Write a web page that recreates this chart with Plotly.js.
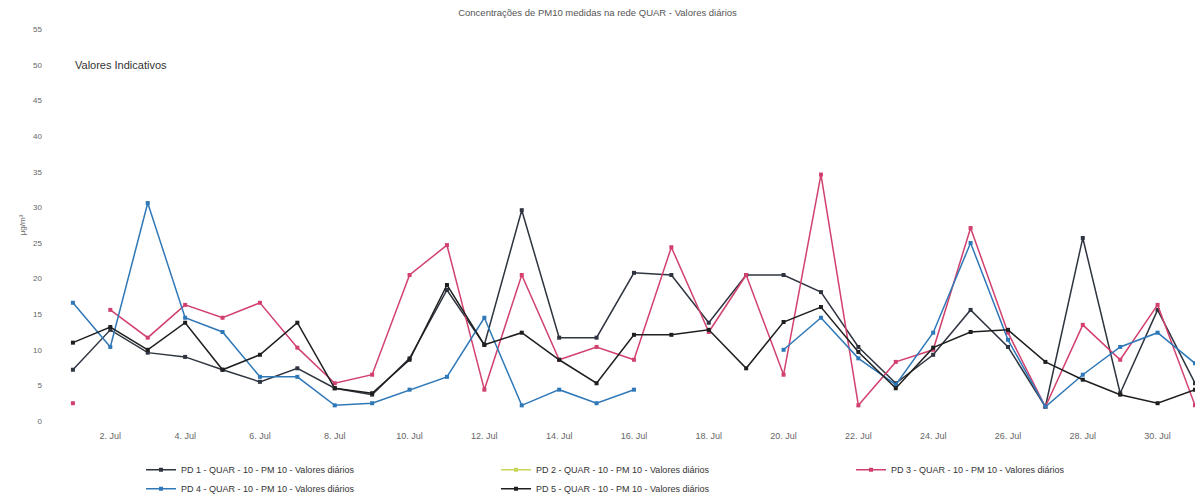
<!DOCTYPE html>
<html>
<head>
<meta charset="utf-8">
<script src="https://cdn.plot.ly/plotly-3.0.1.min.js"></script>
<style>html,body{margin:0;padding:0;background:#fff;}#chart{width:1195px;height:497px;}</style>
</head>
<body>
<div id="chart"></div>
<script>
// ---- data (PM10 daily values, µg/m³) ----
var dates = ["2014-07-01","2014-07-02","2014-07-03","2014-07-04","2014-07-05","2014-07-06","2014-07-07","2014-07-08","2014-07-09","2014-07-10",
             "2014-07-11","2014-07-12","2014-07-13","2014-07-14","2014-07-15","2014-07-16","2014-07-17","2014-07-18","2014-07-19","2014-07-20",
             "2014-07-21","2014-07-22","2014-07-23","2014-07-24","2014-07-25","2014-07-26","2014-07-27","2014-07-28","2014-07-29","2014-07-30","2014-07-31"];
var tickDates = ["2014-07-02","2014-07-04","2014-07-06","2014-07-08","2014-07-10","2014-07-12","2014-07-14","2014-07-16",
                 "2014-07-18","2014-07-20","2014-07-22","2014-07-24","2014-07-26","2014-07-28","2014-07-30"];
var tickLabels = ["2. Jul","4. Jul","6. Jul","8. Jul","10. Jul","12. Jul","14. Jul","16. Jul",
                  "18. Jul","20. Jul","22. Jul","24. Jul","26. Jul","28. Jul","30. Jul"];
var seriesNames = ["PD 1 - QUAR - 10 - PM 10 - Valores diários",
                   "PD 2 - QUAR - 10 - PM 10 - Valores diários",
                   "PD 3 - QUAR - 10 - PM 10 - Valores diários",
                   "PD 4 - QUAR - 10 - PM 10 - Valores diários",
                   "PD 5 - QUAR - 10 - PM 10 - Valores diários"];
var pd1 = [7.2,12.8,9.6,9.0,7.2,5.5,7.4,4.6,3.7,8.8,18.4,10.7,29.6,11.7,11.7,20.8,20.5,13.8,20.5,20.5,18.1,10.4,5.3,9.3,15.6,10.4,2.0,25.7,3.9,15.6,5.3];
var pd2 = [null,null,null,null,null,null,null,null,null,null,null,null,null,null,null,null,null,null,null,null,null,null,null,null,null,null,null,null,null,null,null];
var pd3 = [null,15.6,11.7,16.3,14.5,16.6,10.3,5.3,6.5,20.5,24.7,4.4,20.5,8.6,10.4,8.6,24.4,12.5,20.5,6.5,34.6,2.2,8.3,10.0,27.1,12.4,2.0,13.5,8.6,16.3,2.2];
var pd3First = [2.5];
var pd4 = [16.6,10.4,30.6,14.5,12.5,6.2,6.2,2.2,2.5,4.4,6.2,14.5,2.2,4.4,2.5,4.4,null,null,null,10.0,14.5,8.8,5.1,12.4,25.0,11.4,2.0,6.5,10.4,12.4,8.1];
var pd5 = [11.0,13.2,10.0,13.8,7.2,9.3,13.8,4.6,3.9,8.6,19.1,10.7,12.4,8.6,5.3,12.1,12.1,12.8,7.4,13.9,16.0,9.7,4.6,10.3,12.5,12.8,8.3,5.8,3.7,2.5,4.4];
var yTicks = [0,5,10,15,20,25,30,35,40,45,50,55];
var limitValue = [50];
var limitLabel = "Valores Indicativos";
var titleText = "Concentrações de PM10 medidas na rede QUAR - Valores diários";

var colors = ["#2e3440", "#c9d65a", "#d2416e", "#2f78b7", "#1f1f1f"];

function tr(name, y, i) {
  return {
    type: "scatter", mode: "lines+markers", name: name, x: dates, y: y,
    line: {color: colors[i], width: 1.5},
    marker: {color: colors[i], size: 4, symbol: "square"},
    connectgaps: false, showlegend: true
  };
}
var data = [
  tr(seriesNames[0], pd1, 0),
  tr(seriesNames[1], pd2, 1),
  tr(seriesNames[2], pd3, 2),
  tr(seriesNames[3], pd4, 3),
  tr(seriesNames[4], pd5, 4),
  {type: "scatter", mode: "markers", name: seriesNames[2], x: [dates[0]], y: pd3First,
   marker: {color: colors[2], size: 4, symbol: "square"}, showlegend: false}
];

var layout = {
  width: 1195, height: 497,
  margin: {l: 55, r: 0, t: 25, b: 72},
  paper_bgcolor: "#ffffff", plot_bgcolor: "#ffffff",
  font: {family: "Liberation Sans, Arial, sans-serif", size: 9, color: "#666"},
  title: {text: titleText, x: 0.5, xanchor: "center", y: 0.975, yanchor: "middle",
          font: {size: 9.5, color: "#555"}},
  xaxis: {
    type: "date",
    range: ["2014-06-30 12:30:00", "2014-07-31 00:00:00"],
    tickvals: tickDates, ticktext: tickLabels,
    showgrid: false, zeroline: false, showline: false, ticks: "",
    ticklabelstandoff: 4,
    tickfont: {size: 9, color: "#666"}
  },
  yaxis: {
    range: [-0.56, 55.6],
    tickvals: yTicks,
    showgrid: false, zeroline: false, showline: false, ticks: "",
    ticklabelstandoff: 12,
    tickfont: {size: 8, color: "#666"},
    title: {text: "µg/m³", font: {size: 8, color: "#666"}, standoff: 6}
  },
  legend: {
    orientation: "h", xref: "container", yref: "container",
    x: 0.118, y: 0.084, xanchor: "left", yanchor: "top",
    entrywidth: 310, entrywidthmode: "pixels",
    font: {size: 9, color: "#333"}, bgcolor: "rgba(0,0,0,0)"
  },
  annotations: [{
    x: dates[0], y: limitValue[0], xref: "x", yref: "y",
    text: limitLabel, showarrow: false, xanchor: "left", yanchor: "middle",
    font: {size: 11, color: "#333"}
  }]
};
Plotly.newPlot("chart", data, layout, {displayModeBar: false, staticPlot: true});
</script>
</body>
</html>
